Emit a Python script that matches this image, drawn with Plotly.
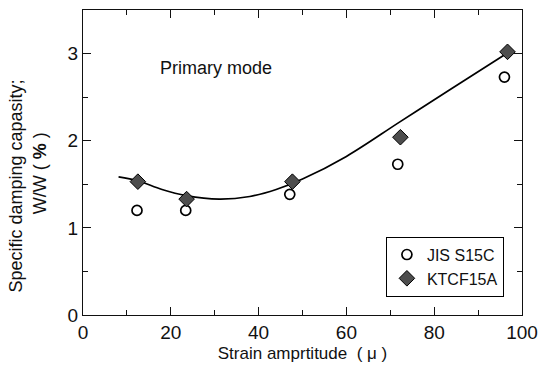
import plotly.graph_objects as go

# Strain amplitude (μ) and specific damping capacity (%)
jis_x = [12.3, 23.4, 47.1, 71.7, 96.0]
jis_y = [1.20, 1.20, 1.385, 1.73, 2.73]

ktcf_x = [12.5, 23.6, 47.7, 72.3, 96.7]
ktcf_y = [1.53, 1.33, 1.53, 2.04, 3.02]

# Fitted trend curve for KTCF15A
fit_x = [8.1, 12.5, 18, 23.5, 31, 38, 44, 50, 60, 72, 84, 96.5]
fit_y = [1.585, 1.54, 1.44, 1.37, 1.33, 1.36, 1.44, 1.56, 1.82, 2.21, 2.6, 3.0]

FONT = "Liberation Sans, Arial, sans-serif"

fig = go.Figure()
fig.add_trace(go.Scatter(
    x=fit_x, y=fit_y, mode="lines", line=dict(color="black", width=1.7, shape="spline", smoothing=1.0),
    showlegend=False, hoverinfo="skip"))
fig.add_trace(go.Scatter(
    x=jis_x, y=jis_y, mode="markers", name="JIS S15C",
    marker=dict(symbol="circle-open", size=10, color="black", line=dict(width=1.7, color="black"))))
fig.add_trace(go.Scatter(
    x=ktcf_x, y=ktcf_y, mode="markers", name="KTCF15A",
    marker=dict(symbol="diamond", size=12, color="#4d4d4d", line=dict(width=1, color="black"))))

axis_common = dict(
    showgrid=False, zeroline=False, showline=True, linecolor="#111111", linewidth=1.2,
    mirror="ticks", ticks="inside", ticklen=8, tickwidth=1, tickcolor="#111111",
    tickfont=dict(family=FONT, size=19, color="#111111"),
)

fig.update_layout(
    width=547, height=369,
    margin=dict(l=83, r=17, t=9, b=54),
    paper_bgcolor="white", plot_bgcolor="white",
    font=dict(family=FONT, color="#111111"),
    xaxis=dict(range=[0, 100], dtick=20, tick0=0,
               minor=dict(dtick=10, ticks="inside", ticklen=5, tickcolor="#111111"),
               title=dict(text="Strain amprtitude  ( μ )", font=dict(family=FONT, size=17), standoff=5),
               **axis_common),
    yaxis=dict(range=[0, 3.5], dtick=1, tick0=0,
               minor=dict(dtick=0.5, ticks="inside", ticklen=5, tickcolor="#111111"),
               **axis_common),
    legend=dict(x=0.69, y=0.257, xanchor="left", yanchor="top",
                bordercolor="black", borderwidth=1, bgcolor="white",
                font=dict(family=FONT, size=16), tracegroupgap=0, itemwidth=30),
    showlegend=True,
    annotations=[
        dict(text="Primary mode", x=0.170, y=0.809, xref="paper", yref="paper",
             xanchor="left", yanchor="middle", showarrow=False,
             font=dict(family=FONT, size=18)),
        dict(text="Specific damping capasity;", x=0, y=0.421, xref="paper", yref="paper",
             xshift=-67, textangle=-90, showarrow=False, xanchor="center", yanchor="middle",
             font=dict(family=FONT, size=18)),
        dict(text="W/W ( <b>%</b> )", x=0, y=0.465, xref="paper", yref="paper",
             xshift=-43, textangle=-90, showarrow=False, xanchor="center", yanchor="middle",
             font=dict(family=FONT, size=18)),
    ],
)

fig.write_html("out.html")
